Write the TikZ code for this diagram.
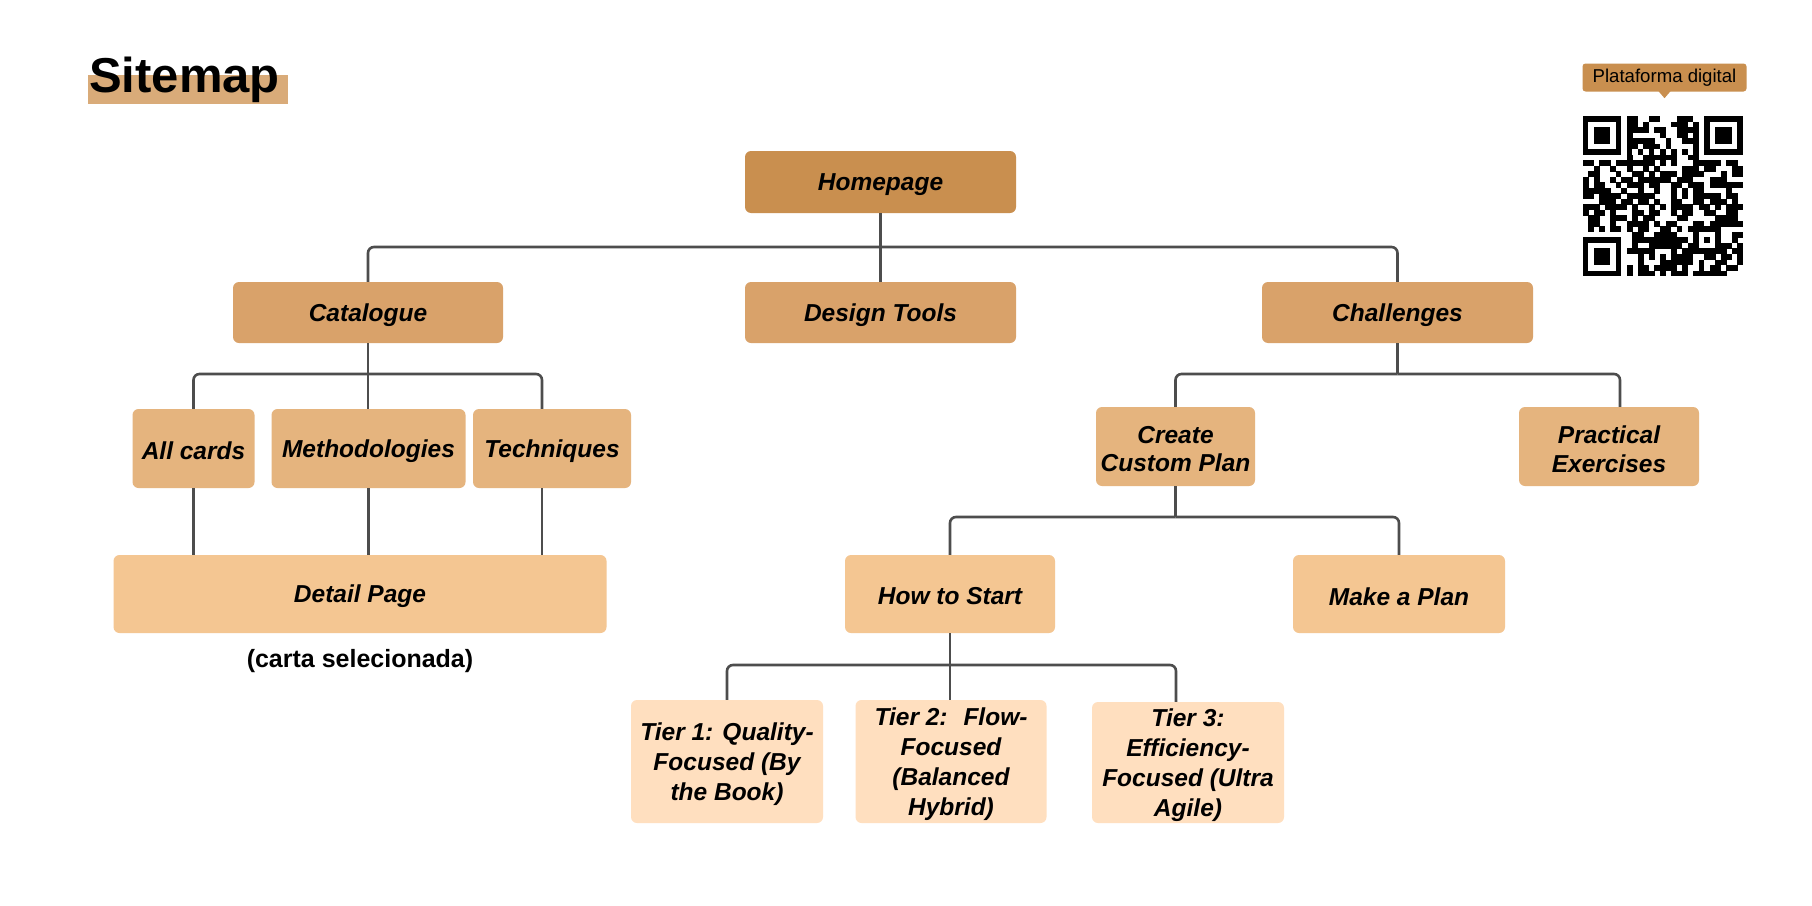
\documentclass[tikz,border=0pt]{standalone}
\usepackage{fontspec}
\setmainfont{Liberation Sans}
\usetikzlibrary{calc}
\definecolor{chome}{HTML}{C98F4F}
\definecolor{clvA}{HTML}{D9A26A}
\definecolor{clvB}{HTML}{E5B47E}
\definecolor{clvC}{HTML}{F4C692}
\definecolor{clvD}{HTML}{FFDFBF}
\definecolor{ctitle}{HTML}{D9AB79}
\definecolor{cline}{HTML}{4D4D4D}
\tikzset{
 box/.style={rounded corners=6pt, inner sep=0pt},
 lbl/.style={inner sep=0pt, align=center, yshift=-2.5pt, text=black, font=\bfseries\itshape\fontsize{24.5}{28.5}\selectfont},
 lblt/.style={lbl, font=\bfseries\itshape\fontsize{24.5}{30}\selectfont},
 conn/.style={draw=cline, line width=2.6pt, rounded corners=6pt},
}
\def\qrx{1582.7}
\def\qry{116}
\def\qrm{5.52}
\begin{document}
\begin{tikzpicture}[x=1pt,y=-1pt]
\fill[white] (0,0) rectangle (1812,905);
\useasboundingbox (0,0) rectangle (1812,905);

% title
\fill[ctitle] (88,75) rectangle (288,104);
\node[anchor=base west, inner sep=0pt, font=\bfseries\fontsize{49}{55}\selectfont] (title) at (89,92) {Sitemap};

% nodes
\node[box, fill=chome, minimum width=271pt, minimum height=62pt, label={[lbl]center:Homepage}] (home) at (880.5,182) {};
\node[box, fill=clvA, minimum width=270pt, minimum height=61pt, label={[lbl]center:Catalogue}] (cat) at (368,312.5) {};
\node[box, fill=clvA, minimum width=271pt, minimum height=61pt, label={[lbl]center:Design Tools}] (tools) at (880.5,312.5) {};
\node[box, fill=clvA, minimum width=271pt, minimum height=61pt, label={[lbl]center:Challenges}] (chal) at (1397.5,312.5) {};

\node[box, fill=clvB, minimum width=122pt, minimum height=79pt, label={[lbl]center:All cards}] (all) at (193.5,448.5) {};
\node[box, fill=clvB, minimum width=194pt, minimum height=79pt, label={[lbl]center:Methodologies}] (meth) at (368.5,448.5) {};
\node[box, fill=clvB, minimum width=158pt, minimum height=79pt, label={[lbl]center:Techniques}] (tech) at (552,448.5) {};
\node[box, fill=clvC, minimum width=493pt, minimum height=78pt, label={[lbl]center:Detail Page}] (detail) at (360,594) {};
\node[anchor=base, font=\bfseries\fontsize{25}{28}\selectfont] (carta) at (360,667) {(carta selecionada)};

\node[box, fill=clvB, minimum width=159pt, minimum height=79pt, label={[lbl]center:{Create\\Custom Plan}}] (create) at (1175.5,446.5) {};
\node[box, fill=clvB, minimum width=180pt, minimum height=79pt, label={[lbl]center:{Practical\\Exercises}}] (prac) at (1609,446.5) {};
\node[box, fill=clvC, minimum width=210pt, minimum height=78pt, label={[lbl]center:How to Start}] (start) at (950,594) {};
\node[box, fill=clvC, minimum width=212pt, minimum height=78pt, label={[lbl]center:Make a Plan}] (plan) at (1399,594) {};

\node[box, fill=clvD, minimum width=192pt, minimum height=123pt, label={[lblt]center:{Tier 1: Quality-\\Focused (By\\the Book)}}] (t1) at (727,761.5) {};
\node[box, fill=clvD, minimum width=191pt, minimum height=123pt, label={[lblt]center:{Tier 2:~ Flow-\\Focused\\(Balanced\\Hybrid)}}] (t2) at (951,761.5) {};
\node[box, fill=clvD, minimum width=192pt, minimum height=121pt, label={[lblt]center:{Tier 3:\\Efficiency-\\Focused (Ultra\\Agile)}}] (t3) at (1188,762.5) {};

% junction coordinates
\coordinate (b1) at (880.5,247);
\coordinate (b2) at (368,374);
\coordinate (b3) at (1397.5,374);
\coordinate (b4) at (1175.5,517);
\coordinate (b5) at (950,665);
\coordinate (techtop) at ($(tech.north)+(-10,0)$);
\coordinate (techbot) at ($(tech.south)+(-10,0)$);
\coordinate (practop) at ($(prac.north)+(11,0)$);
\coordinate (t3top) at ($(t3.north)+(-12,0)$);

% connectors
\draw[conn] (home.south) -- (tools.north);
\draw[conn] (b1) -| (cat.north);
\draw[conn] (b1) -| (chal.north);

\draw[conn] (cat.south) -- (cat.south |- meth.north);
\draw[conn] (b2) -| (all.north);
\draw[conn] (b2) -| (techtop);
\draw[conn] (all.south) -- (all.south |- detail.north);
\draw[conn] (meth.south) -- (meth.south |- detail.north);
\draw[conn] (techbot) -- (techbot |- detail.north);

\draw[conn] (chal.south) -- (b3);
\draw[conn] (b3) -| (create.north);
\draw[conn] (b3) -| (practop);

\draw[conn] (create.south) -- (b4);
\draw[conn] (b4) -| (start.north);
\draw[conn] (b4) -| (plan.north);

\draw[conn] (start.south) -- (b5);
\draw[conn] (b5) -| (t1.north);
\draw[conn] (b5) -| (t3top);
\draw[conn] (b5) -- (b5 |- t2.north);

% callout
\node[fill=chome, rounded corners=3pt, inner sep=0pt, minimum width=164pt, minimum height=28pt, font=\fontsize{18.6}{22}\selectfont] (plat) at (1664.5,77.5) {Plataforma digital};
\fill[chome] ($(plat.south)+(-6,-0.5)$) -- ($(plat.south)+(0,6.5)$) -- ($(plat.south)+(6,-0.5)$) -- cycle;

% QR code
\fill[white] (\qrx,\qry) rectangle ++(29*\qrm,29*\qrm);
\foreach \fx/\fy in {0/0,22/0,0/22}{
  \fill[black] (\qrx+\fx*\qrm,\qry+\fy*\qrm) rectangle ++(7*\qrm,7*\qrm);
  \fill[white] (\qrx+\fx*\qrm+\qrm,\qry+\fy*\qrm+\qrm) rectangle ++(5*\qrm,5*\qrm);
  \fill[black] (\qrx+\fx*\qrm+2*\qrm,\qry+\fy*\qrm+2*\qrm) rectangle ++(3*\qrm,3*\qrm);
}
\fill[black] (\qrx+20*\qrm,\qry+20*\qrm) rectangle ++(5*\qrm,5*\qrm);
\fill[white] (\qrx+21*\qrm,\qry+21*\qrm) rectangle ++(3*\qrm,3*\qrm);
\fill[black] (\qrx+22*\qrm,\qry+22*\qrm) rectangle ++(\qrm,\qrm);
\foreach \k in {8,10,...,20}{
  \fill[black] (\qrx+\k*\qrm,\qry+6*\qrm) rectangle ++(\qrm,\qrm);
  \fill[black] (\qrx+6*\qrm,\qry+\k*\qrm) rectangle ++(\qrm,\qrm);
}
\pgfmathsetseed{2024}
\foreach \i in {0,...,28}{
  \foreach \j in {0,...,28}{
    \pgfmathtruncatemacro\qsk{((\i<8)&&(\j<8))||((\i>20)&&(\j<8))||((\i<8)&&(\j>20))||((\i>19)&&(\i<25)&&(\j>19)&&(\j<25))||(\i==6)||(\j==6)}
    \ifnum\qsk=0
      \pgfmathtruncatemacro\qdk{rnd<0.55}
      \ifnum\qdk=1
        \fill[black] (\qrx+\i*\qrm,\qry+\j*\qrm) rectangle ++(\qrm+0.3,\qrm+0.3);
      \fi
    \fi
  }
}
\end{tikzpicture}
\end{document}
